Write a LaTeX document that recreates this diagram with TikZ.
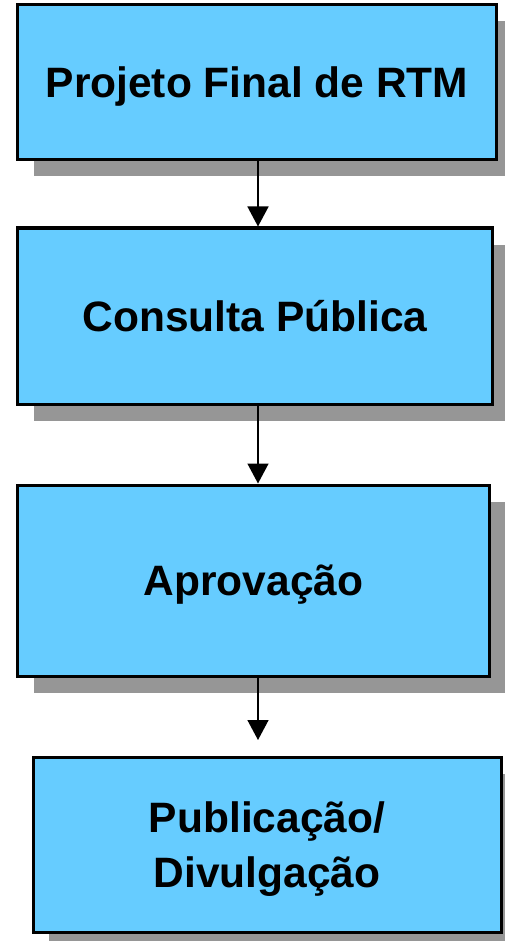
\documentclass[tikz,border=0pt]{standalone}
\usepackage{fontspec}
\setmainfont{Liberation Sans}
\usetikzlibrary{arrows.meta,shadows}
\definecolor{boxblue}{HTML}{66CCFF}
\definecolor{shadowgray}{HTML}{969696}
\begin{document}
\begin{tikzpicture}[x=1pt,y=-1pt,
  stagebox/.style={draw=black,line width=3pt,fill=boxblue,rectangle,
    inner sep=0pt,align=center,text height=30.4pt,text depth=0pt,
    font=\fontsize{42.5}{55}\selectfont\bfseries,
    drop shadow={shadow xshift=16pt,shadow yshift=-17pt,fill=shadowgray,opacity=1}},
  flowarrow/.style={line width=1.5pt,-{Triangle[length=20pt,width=21pt]}}]
\useasboundingbox (0,0) rectangle (505,941);
\node[stagebox,minimum width=479pt,minimum height=155pt] (b1) at (257,82) {Projeto Final de RTM};
\node[stagebox,minimum width=475pt,minimum height=176pt] (b2) at (255,316) {Consulta Pública};
\node[stagebox,minimum width=472pt,minimum height=191pt] (b3) at (253.5,580.5) {Aprovação};
\node[stagebox,text height=85.4pt,minimum width=468pt,minimum height=175pt] (b4) at (267,844.5) {Publicação/\\Divulgação};
\coordinate (ax) at (258,0);
\coordinate (e3) at (258,740);
\draw[flowarrow] (b1.south -| ax) -- (b2.north -| ax);
\draw[flowarrow] (b2.south -| ax) -- (b3.north -| ax);
\draw[flowarrow] (b3.south -| ax) -- (e3);
\end{tikzpicture}
\end{document}
